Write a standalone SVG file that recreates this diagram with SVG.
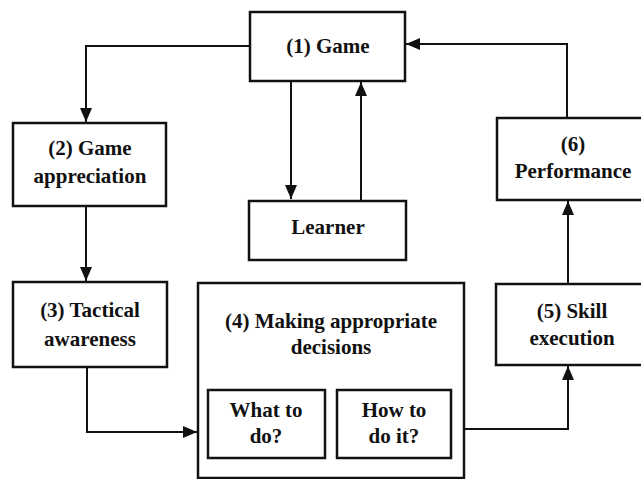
<svg xmlns="http://www.w3.org/2000/svg" width="641" height="479" viewBox="0 0 641 479">
<style>
.box{fill:#fff;stroke:#111;stroke-width:2.5}
.t{font-family:"Liberation Serif","Times New Roman",serif;font-weight:bold;font-size:21px;fill:#111;text-anchor:middle}
.c{fill:none;stroke:#111;stroke-width:2}
</style>
<defs>
<marker id="ah" viewBox="0 0 14 12" refX="14" refY="6" markerWidth="14" markerHeight="12" markerUnits="userSpaceOnUse" orient="auto">
<path d="M0,0 L14,6 L0,12 Z" fill="#111"/>
</marker>
</defs>
<rect width="641" height="479" fill="#fff"/>
<g id="connectors">
<path class="c" d="M250,46 H86 V122" marker-end="url(#ah)"/>
<path class="c" d="M86,206 V281" marker-end="url(#ah)"/>
<path class="c" d="M87,367 V432 H197" marker-end="url(#ah)"/>
<path class="c" d="M464,429 H568 V366" marker-end="url(#ah)"/>
<path class="c" d="M568,284 V201" marker-end="url(#ah)"/>
<path class="c" d="M567,118 V44 H406" marker-end="url(#ah)"/>
<path class="c" d="M291,82 V199" marker-end="url(#ah)"/>
<path class="c" d="M361,201 V82" marker-end="url(#ah)"/>
</g>
<g id="game">
<rect class="box" x="250" y="12" width="155" height="69"/>
<text class="t" x="328" y="53">(1) Game</text>
</g>
<g id="appreciation">
<rect class="box" x="13" y="123" width="153" height="83"/>
<text class="t" x="90" y="155">(2) Game</text>
<text class="t" x="90" y="183">appreciation</text>
</g>
<g id="learner">
<rect class="box" x="249" y="201" width="157" height="59"/>
<text class="t" x="328" y="234">Learner</text>
</g>
<g id="tactical">
<rect class="box" x="13" y="282" width="154" height="85"/>
<text class="t" x="90" y="317">(3) Tactical</text>
<text class="t" x="90" y="346">awareness</text>
</g>
<g id="decisions">
<rect class="box" x="198" y="283" width="266" height="195"/>
<text class="t" x="331" y="328">(4) Making appropriate</text>
<text class="t" x="331" y="354">decisions</text>
</g>
<g id="what">
<rect class="box" x="208" y="390" width="117" height="68"/>
<text class="t" x="266" y="417">What to</text>
<text class="t" x="266" y="443">do?</text>
</g>
<g id="how">
<rect class="box" x="337" y="390" width="114" height="68"/>
<text class="t" x="394" y="417">How to</text>
<text class="t" x="394" y="443">do it?</text>
</g>
<g id="skill">
<rect class="box" x="496" y="284" width="160" height="81"/>
<text class="t" x="572" y="318">(5) Skill</text>
<text class="t" x="572" y="345">execution</text>
</g>
<g id="performance">
<rect class="box" x="497" y="118" width="160" height="82"/>
<text class="t" x="573" y="151">(6)</text>
<text class="t" x="573" y="178">Performance</text>
</g>
</svg>
